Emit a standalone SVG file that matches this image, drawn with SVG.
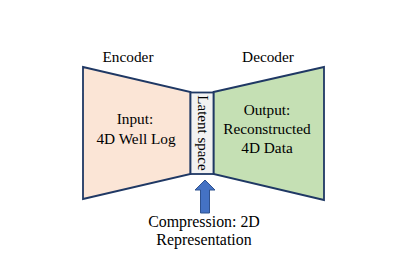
<svg xmlns="http://www.w3.org/2000/svg" width="394" height="277" viewBox="0 0 394 277">
  <style>
    .shape { stroke: #1f3864; stroke-width: 1.8; stroke-linejoin: miter; }
    .lbl { font-family: "Liberation Serif", "Times New Roman", "DejaVu Serif", serif; font-size: 15.3px; fill: #000; text-anchor: middle; }
    .big { font-size: 15.9px; }
    .side { font-size: 15px; }
  </style>
  <rect width="394" height="277" fill="#ffffff"/>

  <!-- encoder funnel -->
  <g id="encoder">
    <polygon class="shape" points="83,67 190.5,92 190.5,174 83,199" fill="#fbe5d6"/>
    <text class="lbl" x="128" y="62">Encoder</text>
    <text class="lbl" x="135" y="124">Input:</text>
    <text class="lbl" x="136" y="144">4D Well Log</text>
  </g>

  <!-- decoder funnel -->
  <g id="decoder">
    <polygon class="shape" points="213.5,92 324,67 324,200 213.5,174" fill="#c5e0b4"/>
    <text class="lbl" x="268" y="62">Decoder</text>
    <text class="lbl" x="267" y="115">Output:</text>
    <text class="lbl" x="267" y="134">Reconstructed</text>
    <text class="lbl" x="267" y="153">4D Data</text>
  </g>

  <!-- bottleneck -->
  <g id="latent">
    <rect class="shape" x="190.5" y="92.5" width="23" height="81.5" fill="#f2f2f2"/>
    <text class="lbl side" transform="translate(197.5,133) rotate(90)">Latent space</text>
  </g>

  <!-- compression pointer -->
  <g id="connectors">
    <polygon points="205,180 215,190 209.5,190 209.5,213 200.5,213 200.5,190 195,190" fill="#4472c4" stroke="#2f528f" stroke-width="1"/>
  </g>

  <g id="compression">
    <text class="lbl big" x="204" y="227">Compression: 2D</text>
    <text class="lbl big" x="204" y="245">Representation</text>
  </g>
</svg>
